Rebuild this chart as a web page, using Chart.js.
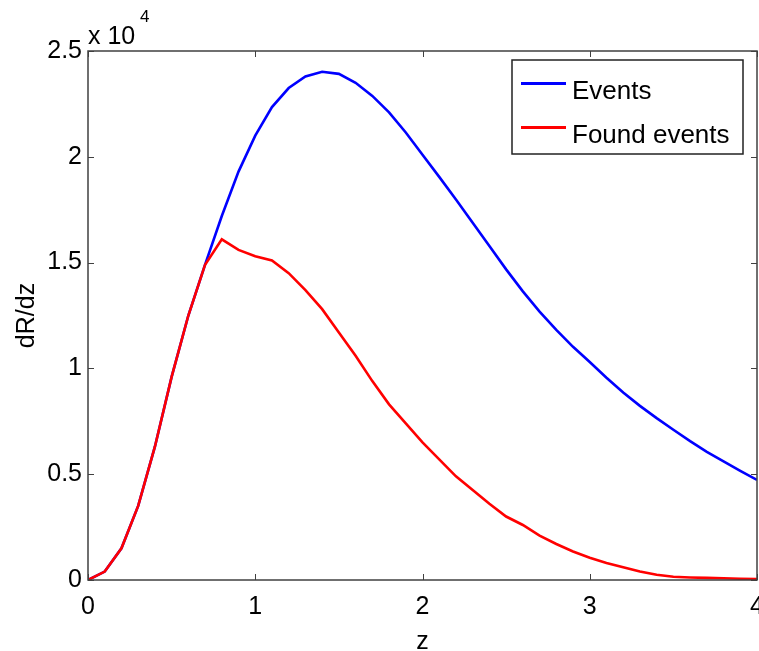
<!DOCTYPE html>
<html>
<head>
<meta charset="utf-8">
<script src="https://cdn.jsdelivr.net/npm/chart.js@4.4.0/dist/chart.umd.min.js"></script>
<style>
  html,body{margin:0;padding:0;background:#fff}
  #wrap{width:759px;height:651px}
</style>
</head>
<body>
<div id="wrap"><canvas id="c" width="759" height="651"></canvas></div>
<script>
// redshift grid at 0.1 steps
const zVals = [0,0.1,0.2,0.3,0.4,0.5,0.6,0.7,0.8,0.9,1.0,1.1,1.2,1.3,1.4,1.5,1.6,1.7,1.8,1.9,2.0,
               2.1,2.2,2.3,2.4,2.5,2.6,2.7,2.8,2.9,3.0,3.1,3.2,3.3,3.4,3.5,3.6,3.7,3.8,3.9,4.0];

// dR/dz, all events
const eventsVals = [0,400,1500,3500,6300,9600,12500,14900,17200,19300,21000,22350,23250,23800,24020,23920,23500,22880,22100,21150,20100,
                    19050,17980,16880,15780,14680,13640,12680,11820,11020,10300,9560,8860,8230,7650,7100,6560,6060,5610,5160,4730];

// dR/dz, found events
const foundVals = [0,400,1500,3500,6300,9600,12500,14900,16100,15600,15300,15100,14500,13700,12800,11700,10600,9400,8300,7400,6500,
                   5700,4900,4250,3600,3000,2600,2100,1700,1350,1050,800,600,400,250,150,120,100,80,60,50];

const seriesNames = ['Events','Found events'];
const seriesColors = ['#0000ff','#ff0000'];
const xTicks = [0,1,2,3,4];
const yTicks = [0,5000,10000,15000,20000,25000];

const FONT = 'Liberation Sans, Arial, Helvetica, sans-serif';
const AX = '#404040';

// matlab-ish box with inward ticks on all four sides
const frame = {
  id:'frame',
  afterDraw(ch){
    const {ctx, chartArea:a, scales} = ch;
    const x=scales.x, y=scales.y, L=6;
    ctx.save();
    ctx.strokeStyle=AX; ctx.lineWidth=1.5;
    ctx.strokeRect(a.left, a.top, a.right-a.left, a.bottom-a.top);
    ctx.lineWidth=1;
    ctx.beginPath();
    xTicks.forEach(t=>{
      const p=Math.round(x.getPixelForValue(t))+0.5;
      ctx.moveTo(p,a.bottom); ctx.lineTo(p,a.bottom-L);
      ctx.moveTo(p,a.top); ctx.lineTo(p,a.top+L);
    });
    yTicks.forEach(t=>{
      const p=Math.round(y.getPixelForValue(t))+0.5;
      ctx.moveTo(a.left,p); ctx.lineTo(a.left+L,p);
      ctx.moveTo(a.right,p); ctx.lineTo(a.right-L,p);
    });
    ctx.stroke();

    // exponent label
    ctx.fillStyle='#000';
    ctx.textBaseline='alphabetic'; ctx.textAlign='left';
    ctx.font='25px '+FONT;
    ctx.fillText('x 10', a.left, 44);
    ctx.font='17px '+FONT;
    ctx.fillText('4', a.left+52, 22);

    // legend box, top right inside the axes
    const bx=512, by=60, bw=231, bh=94;
    ctx.fillStyle='#fff';
    ctx.fillRect(bx,by,bw,bh);
    ctx.strokeStyle='#222'; ctx.lineWidth=1.5;
    ctx.strokeRect(bx,by,bw,bh);
    const rows=[83.5,127.5];
    ch.data.datasets.forEach((ds,i)=>{
      ctx.strokeStyle=ds.borderColor; ctx.lineWidth=3;
      ctx.beginPath(); ctx.moveTo(521,rows[i]); ctx.lineTo(566,rows[i]); ctx.stroke();
      ctx.fillStyle='#000'; ctx.font='26px '+FONT;
      ctx.textBaseline='alphabetic';
      ctx.fillText(ds.label, 572, rows[i]+15);
    });
    ctx.restore();
  }
};

new Chart(document.getElementById('c'), {
  type:'line',
  data:{
    datasets:[
      {label:seriesNames[0], data:zVals.map((z,i)=>({x:z,y:eventsVals[i]})),
       borderColor:seriesColors[0], borderWidth:2.6, pointRadius:0, tension:0, order:2},
      {label:seriesNames[1], data:zVals.map((z,i)=>({x:z,y:foundVals[i]})),
       borderColor:seriesColors[1], borderWidth:2.6, pointRadius:0, tension:0, order:1}
    ]
  },
  options:{
    responsive:false, animation:false,
    layout:{autoPadding:false, padding:{top:51,right:2,left:0,bottom:0}},
    plugins:{legend:{display:false}, tooltip:{enabled:false}},
    scales:{
      x:{type:'linear', min:0, max:4,
         afterFit(s){ s.height=71; s.paddingLeft=0; s.paddingRight=0; },
         afterBuildTicks(s){ s.ticks=xTicks.map(v=>({value:v})); },
         grid:{display:false, drawTicks:false}, border:{display:false},
         ticks:{color:'#000', font:{family:FONT,size:25}, padding:12, maxRotation:0,
                callback:v=>String(v)},
         title:{display:true, text:'z', color:'#000', font:{family:FONT,size:25}, padding:{top:0,bottom:-6}}},
      y:{min:0, max:25000,
         afterFit(s){ s.width=88; s.paddingTop=0; s.paddingBottom=0; },
         afterBuildTicks(s){ s.ticks=yTicks.map(v=>({value:v})); },
         grid:{display:false, drawTicks:false}, border:{display:false},
         ticks:{color:'#000', font:{family:FONT,size:25}, padding:6,
                callback:v=>String(v/1e4)},
         title:{display:true, text:'dR/dz', color:'#000', font:{family:FONT,size:25}, padding:{top:12,bottom:0}}}
    }
  },
  plugins:[frame]
});
</script>
</body>
</html>
